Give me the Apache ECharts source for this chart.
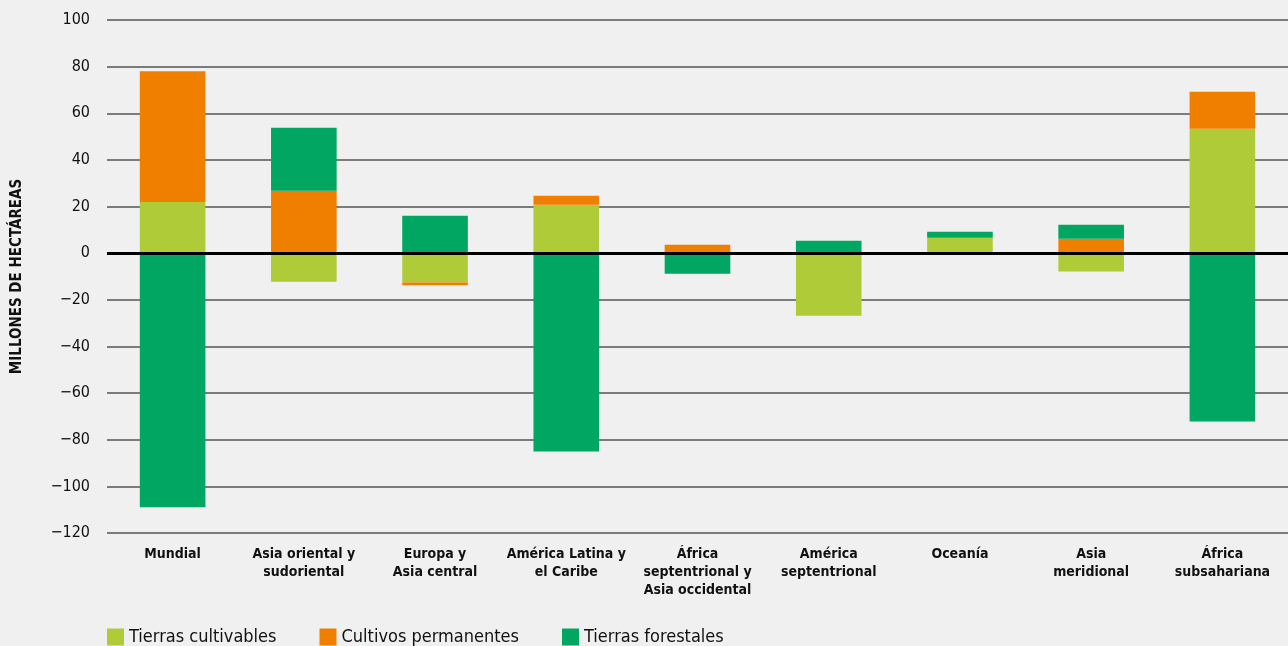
<!DOCTYPE html>
<html>
<head>
<meta charset="utf-8">
<script src="https://cdn.jsdelivr.net/npm/echarts@6/dist/echarts.min.js"></script>
<style>
  html, body { margin: 0; padding: 0; background: #f0f0f0; }
  #chart { width: 1288px; height: 646px; }
</style>
</head>
<body>
<div id="chart"></div>
<script>
const FONT = "'DejaVu Sans Condensed', 'Liberation Sans Narrow', sans-serif"

const categories = [
  'Mundial',
  'Asia oriental y\nsudoriental',
  'Europa y\nAsia central',
  'América Latina y\nel Caribe',
  'África\nseptentrional y\nAsia occidental',
  'América\nseptentrional',
  'Oceanía',
  'Asia\nmeridional',
  'África\nsubsahariana',
]
const cultivables = [22, -12.2, -12.6, 20.8, 0, -26.8, 6.6, -7.9, 53.4]
const permanentes = [56, 26.8, -1.1, 3.8, 3.6, 0, 0, 6.2, 15.8]
const forestales = [-109, 27, 16, -85, -8.8, 5.3, 2.6, 6, -72.2]
const yTicks = [-120, -100, -80, -60, -40, -20, 0, 20, 40, 60, 80, 100]

const chart = echarts.init(document.getElementById('chart'))

const bar = (name, data, color) => ({
  name,
  type: 'bar',
  stack: 'total',
  barWidth: '50%',
  itemStyle: { color },
  data,
})

chart.setOption({
  backgroundColor: '#f0f0f0',
  animation: false,
  textStyle: { fontFamily: FONT },
  grid: { left: 107, right: 0, top: 20, bottom: 113 },
  legend: {
    left: 102,
    top: 623,
    itemWidth: 17,
    itemHeight: 17,
    itemGap: 43,
    icon: 'rect',
    textStyle: { fontSize: 18, color: '#111', fontFamily: FONT },
    data: ['Tierras cultivables', 'Cultivos permanentes', 'Tierras forestales'],
  },
  xAxis: {
    type: 'category',
    data: categories,
    axisLine: { show: false },
    axisTick: { show: false },
    axisLabel: {
      interval: 0,
      margin: 12,
      fontSize: 14,
      fontWeight: 'bold',
      lineHeight: 18,
      color: '#111',
      verticalAlign: 'top',
      fontFamily: FONT,
    },
  },
  yAxis: {
    type: 'value',
    min: yTicks[0],
    max: yTicks[yTicks.length - 1],
    interval: 20,
    name: 'MILLONES DE HECTÁREAS',
    nameLocation: 'middle',
    nameGap: 82,
    nameTextStyle: { fontSize: 15, fontWeight: 'bold', color: '#111', fontFamily: FONT },
    axisLine: { show: false },
    axisTick: { show: false },
    axisLabel: {
      margin: 17,
      fontSize: 16,
      color: '#111',
      fontFamily: FONT,
      formatter: (v) => (v < 0 ? '\u2212' + Math.abs(v) : String(v)),
    },
    splitLine: { lineStyle: { color: '#555', width: 1.5 } },
  },
  series: [
    bar('Tierras cultivables', cultivables, '#b0cb38'),
    bar('Cultivos permanentes', permanentes, '#f07f00'),
    {
      ...bar('Tierras forestales', forestales, '#00a661'),
      markLine: {
        silent: true,
        symbol: 'none',
        label: { show: false },
        lineStyle: { color: '#000', width: 3, type: 'solid' },
        data: [{ yAxis: 0 }],
      },
    },
  ],
})
</script>
</body>
</html>
